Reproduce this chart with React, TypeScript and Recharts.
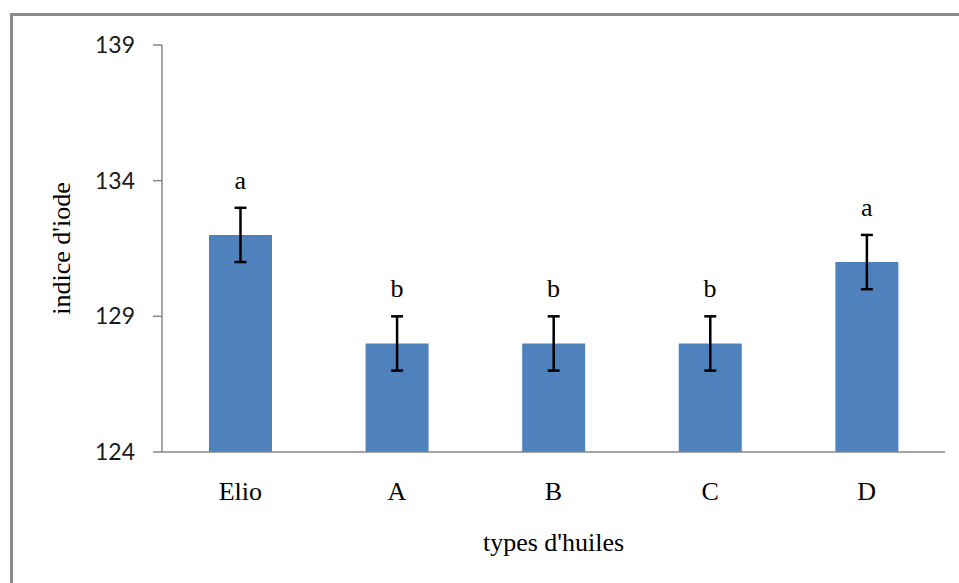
import { Bar, ComposedChart, ErrorBar, LabelList, Line, XAxis, YAxis } from 'recharts';

// iodine index per oil type, with std error and significance group
const oils = ['Elio', 'A', 'B', 'C', 'D'];
const iodine = [132, 128, 128, 128, 131];
const errors = [1, 1, 1, 1, 1];
const groups = ['a', 'b', 'b', 'b', 'a'];
const yTicks = [124, 129, 134, 139];
const slotTicks = [0, 1, 2, 3, 4, 5];

const data = oils.map((name, i) => ({
  name,
  value: iodine[i],
  err: errors[i],
  top: iodine[i] + errors[i],
  group: groups[i],
}));

const axisColor = '#868686';
const serif = "'Liberation Serif', 'Times New Roman', serif";

function YTitle({ viewBox }: any) {
  const cx = viewBox.x + 61;
  const cy = viewBox.y + viewBox.height / 2;
  return (
    <text
      x={cx}
      y={cy}
      dy="0.35em"
      transform={`rotate(-90 ${cx} ${cy})`}
      textAnchor="middle"
      fill="#000"
      style={{ fontFamily: serif, fontSize: 26 }}
    >
      indice d'iode
    </text>
  );
}

export default function App() {
  return (
    <div
      style={{
        position: 'absolute',
        left: 0,
        top: 0,
        width: 959,
        height: 583,
        overflow: 'hidden',
        background: '#fff',
      }}
    >
      <div
        style={{
          position: 'absolute',
          left: 10,
          top: 13,
          width: 990,
          height: 620,
          border: '3px solid #8a8a8a',
          boxSizing: 'border-box',
        }}
      />
      <div style={{ position: 'absolute', left: 0, top: 0 }}>
        <ComposedChart
          width={959}
          height={583}
          data={data}
          margin={{ top: 45, right: 14, bottom: 0, left: 0 }}
          barCategoryGap="30%"
        >
          {/* boundary ticks between categories */}
          <XAxis
            xAxisId={0}
            type="number"
            domain={[0, 5]}
            ticks={slotTicks}
            allowDataOverflow
            height={0}
            tick={false}
            axisLine={false}
            tickSize={8}
            tickLine={{ stroke: axisColor, strokeWidth: 1.5 }}
          />
          <XAxis
            xAxisId="cat"
            dataKey="name"
            type="category"
            height={131}
            tickLine={false}
            tickSize={8}
            tickMargin={22}
            axisLine={{ stroke: axisColor, strokeWidth: 1.5 }}
            tick={{ fontFamily: serif, fontSize: 26, fill: '#000' }}
            label={{
              value: "types d'huiles",
              position: 'insideBottom',
              offset: 32,
              style: { fontFamily: serif, fontSize: 26, fill: '#000' },
            }}
          />
          <YAxis
            type="number"
            domain={[124, 139]}
            ticks={yTicks}
            interval={0}
            allowDataOverflow
            width={162}
            tickSize={9}
            tickMargin={18}
            axisLine={{ stroke: axisColor, strokeWidth: 1.5 }}
            tickLine={{ stroke: axisColor, strokeWidth: 1.5 }}
            tick={{ fontFamily: 'Lato, sans-serif', fontSize: 23, fill: '#1a1a1a' }}
            label={{ content: YTitle }}
          />
          <Bar xAxisId="cat" dataKey="value" fill="#4f81bd" isAnimationActive={false}>
            <ErrorBar dataKey="err" width={6} stroke="#000" strokeWidth={2.5} isAnimationActive={false} />
          </Bar>
          <Line
            xAxisId="cat"
            dataKey="top"
            stroke="none"
            dot={false}
            activeDot={false}
            legendType="none"
            isAnimationActive={false}
          >
            <LabelList
              dataKey="group"
              position="top"
              offset={19}
              style={{ fontFamily: serif, fontSize: 26, fill: '#000' }}
            />
          </Line>
        </ComposedChart>
      </div>
    </div>
  );
}
